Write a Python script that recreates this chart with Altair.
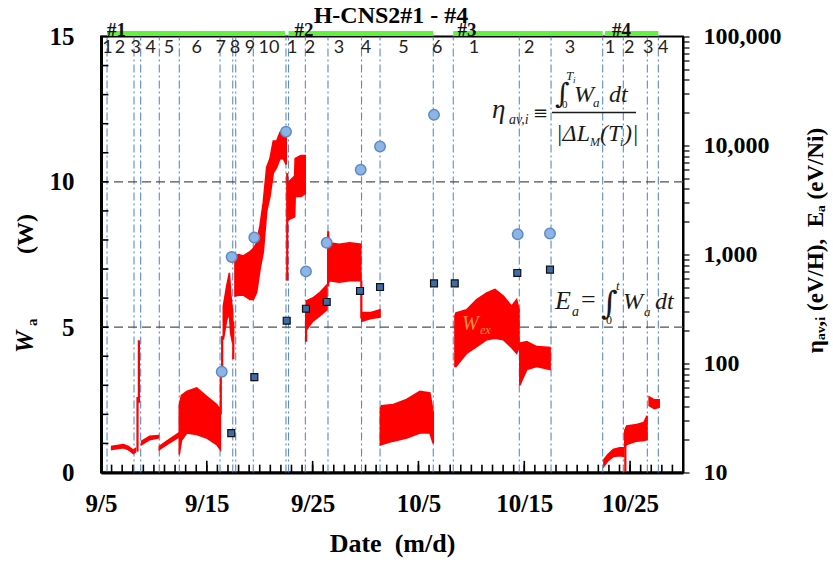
import altair as alt
import pandas as pd

# ---------------- data (x = days elapsed since 9/5 00:00) ----------------
run_boundary_day = [0.57, 3.12, 3.75, 5.51, 7.40, 11.25, 12.45, 12.73, 14.39, 17.48, 17.72,
                    19.31, 21.45, 24.62, 26.37, 31.40, 33.29, 39.53, 42.53, 47.41, 49.36,
                    51.63, 52.67]
run_label = ["1", "2", "3", "4", "5", "6", "7", "8", "9", "10",
             "1", "2", "3", "4", "5", "6",
             "1", "2", "3",
             "1", "2", "3", "4"]
run_label_day = [0.60, 1.80, 3.29, 4.70, 6.43, 9.04, 11.31, 12.66, 14.08, 15.88,
                 18.08, 19.75, 22.49, 25.04, 28.59, 31.78,
                 35.25, 40.47, 44.32,
                 48.10, 49.92, 51.72, 53.14]
group_label = ["#1", "#2", "#3", "#4"]
group_label_day = [1.46, 19.18, 34.59, 49.19]
group_start_day = [0.57, 17.72, 33.29, 47.63]
group_end_day = [17.39, 31.40, 47.41, 52.67]
ref_level_w = [5, 10]

x_label_day = [0, 10, 20, 30, 40, 50]
x_minor_day = list(range(0, 56))
y_label_w = [0, 5, 10, 15]
y_minor_w = list(range(0, 16))
right_major = [10, 100, 1000, 10000, 100000]

eta_day = [11.41, 12.35, 14.49, 17.48, 19.37, 21.33, 24.54, 26.37, 31.47, 39.38, 42.43]
eta_val = [84, 950, 1430, 13400, 700, 1280, 6000, 9800, 19100, 1530, 1560]
ea_day = [12.31, 14.49, 17.55, 19.37, 21.33, 24.48, 26.37, 31.47, 33.43, 39.34, 42.43]
ea_val = [23, 75, 247, 318, 367, 463, 503, 544, 544, 677, 726]

# excess power W_a: envelope (low/high) of the dense record, one list per run
red_day = [
    [1.01, 2.11, 2.58, 3.06, 3.25],
    [3.84, 4.60, 5.42],
    [5.51, 6.21, 7.35],
    [7.40, 7.60, 8.10, 9.04, 9.98, 10.93, 11.28],
    [11.56, 11.88, 12.13, 12.25, 12.44],
    [12.66, 13.00, 13.45, 14.08, 14.39],
    [14.39, 14.71, 15.03, 15.34, 15.66, 15.97, 16.28, 16.60, 16.92, 17.23, 17.50],
    [17.75, 18.30, 18.35, 18.90, 19.30],
    [19.40, 20.00, 20.70, 21.35],
    [21.45, 21.60, 22.50, 23.50, 24.55],
    [24.65, 25.50, 26.37],
    [26.40, 26.52, 27.62, 28.88, 30.14, 31.08, 31.40],
    [33.45, 33.55, 34.55, 35.50, 36.45, 37.23, 38.02, 38.80, 39.28, 39.50],
    [39.58, 40.23, 41.18, 42.44],
    [47.53, 47.90, 48.41, 49.00, 49.40],
    [49.50, 49.68, 50.62, 51.30, 51.60],
    [51.80, 52.30, 52.75],
]
red_lo = [
    [0.79, 0.85, 0.79, 0.65, 0.70],
    [0.96, 1.13, 1.19],
    [0.79, 0.96, 1.22],
    [0.62, 1.10, 1.36, 1.31, 1.19, 0.96, 0.79],
    [4.57, 5.26, 5.49, 4.80, 4.45],
    [6.07, 6.10, 6.10, 5.95, 5.95],
    [5.95, 6.20, 7.00, 7.60, 9.00, 9.50, 10.30, 10.50, 10.80, 10.80, 10.60],
    [8.70, 8.80, 9.50, 9.50, 9.60],
    [4.90, 5.20, 5.40, 5.60],
    [6.50, 6.60, 6.55, 6.60, 6.60],
    [5.20, 5.30, 5.35],
    [0.95, 0.96, 1.08, 1.19, 1.36, 1.36, 1.00],
    [3.65, 3.65, 4.10, 4.33, 4.57, 4.62, 4.57, 4.30, 4.10, 4.30],
    [3.00, 3.54, 3.65, 3.54],
    [0.22, 0.40, 0.55, 0.58, 0.56],
    [0.90, 0.96, 1.08, 1.10, 1.13],
    [2.30, 2.20, 2.25],
]
red_hi = [
    [0.90, 0.96, 0.90, 0.76, 0.82],
    [1.08, 1.25, 1.27],
    [0.90, 1.08, 1.36],
    [2.30, 2.65, 2.79, 2.91, 2.62, 2.34, 2.16],
    [5.72, 6.41, 6.87, 6.18, 5.49],
    [7.44, 7.50, 7.45, 7.60, 7.70],
    [7.70, 7.90, 8.50, 9.30, 10.50, 10.80, 11.40, 11.40, 11.70, 11.70, 11.85],
    [10.00, 10.20, 10.80, 10.90, 10.90],
    [5.90, 6.00, 6.20, 6.45],
    [8.20, 7.90, 7.85, 7.90, 7.85],
    [5.50, 5.50, 5.60],
    [2.20, 2.30, 2.34, 2.51, 2.79, 2.74, 2.05],
    [5.40, 5.49, 5.60, 5.95, 6.18, 6.30, 6.07, 5.72, 5.95, 5.60],
    [4.45, 4.50, 4.33, 4.30],
    [0.45, 0.62, 0.79, 0.85, 0.85],
    [1.45, 1.60, 1.65, 1.72, 1.95],
    [2.60, 2.50, 2.50],
]
# fast jumps / spikes of the record
spike_day = [3.45, 3.58, 11.32, 11.45, 12.50, 17.60, 19.38, 21.47, 24.60, 49.55]
spike_lo = [0.72, 2.40, 2.00, 3.30, 3.90, 6.60, 4.50, 6.40, 5.30, 0.05]
spike_hi = [2.60, 4.55, 3.60, 4.70, 5.20, 10.30, 5.50, 8.30, 6.60, 1.20]

# ---------------- tables ----------------
rows = []
for i, (ds, ls, hs) in enumerate(zip(red_day, red_lo, red_hi)):
    for d, lo, hi in zip(ds, ls, hs):
        rows.append({"seg": i, "day": d, "lo": lo, "hi": hi})
red_df = pd.DataFrame(rows)
spike_df = pd.DataFrame({"day": spike_day, "lo": spike_lo, "hi": spike_hi})
bound_df = pd.DataFrame({"day": run_boundary_day, "y0": 0, "y1": 15})
runlab_df = pd.DataFrame({"day": run_label_day, "t": run_label})
grp_df = pd.DataFrame({"day": group_label_day, "t": group_label})
bar_df = pd.DataFrame({"s": group_start_day, "e": group_end_day})
ref_df = pd.DataFrame({"w": ref_level_w})
eta_df = pd.DataFrame({"day": eta_day, "v": eta_val})
ea_df = pd.DataFrame({"day": ea_day, "v": ea_val})
xminor_df = pd.DataFrame({"day": x_minor_day})
xmajor_df = pd.DataFrame({"day": x_label_day})
yminor_df = pd.DataFrame({"w": y_minor_w})

# ---------------- layout / styles ----------------
SERIF = "Liberation Serif"
SYM = "DejaVu Serif"
NB = "\u00a0"
W, H = 582, 436
X0, Y0 = 101, 36.5

xs = alt.Scale(domain=[0, 55], nice=False, zero=False)
ws = alt.Scale(domain=[0, 15], nice=False, zero=False)
es = alt.Scale(type="log", domain=[10, 100000], nice=False)

date_expr = "timeFormat(datetime(2015, 8, 5 + datum.value), '%-m/%-d')"
log_ticks = [m * 10 ** k for k in range(1, 5) for m in range(1, 10)] + [100000]
major_list = ",".join(str(v) for v in right_major)

x_main = alt.Axis(orient="bottom", values=x_label_day, labelExpr=date_expr,
                  ticks=False, tickSize=0, domain=True, domainColor="black", domainWidth=3,
                  grid=False, labelFont=SERIF, labelFontSize=25, labelFontWeight="bold",
                  labelColor="black", labelPadding=19, labelFlush=False, labelOverlap=False,
                  title="Date" + NB + NB + "(m/d)", titleFont=SERIF, titleFontSize=26,
                  titleFontWeight="bold", titleColor="black", titleX=291, titleY=79,
                  titleAlign="center", titleBaseline="alphabetic")
y_main = alt.Axis(orient="left", values=y_label_w, ticks=False, tickSize=0, domain=True,
                  domainColor="black", domainWidth=3, grid=False, labelFont=SERIF,
                  labelFontSize=25, labelFontWeight="bold", labelColor="black",
                  labelPadding=27, labelFlush=False, labelOverlap=False, title="")
y_right = alt.Axis(orient="right", values=log_ticks,
                   labelExpr="indexof([" + major_list + "], datum.value) >= 0 ? format(datum.value, ',') : ''",
                   ticks=True, tickSize=6, tickWidth=1.2, tickColor="black", domain=True,
                   domainColor="black", domainWidth=2, grid=False, labelFont=SERIF,
                   labelFontSize=24, labelFontWeight="bold", labelColor="black",
                   labelPadding=14, labelFlush=False, labelOverlap=False,
                   title="ηₐᵥ,ᵢ (eV/H)," + NB + NB + "Eₐ (eV/Ni)", titleFont=SERIF,
                   titleFontSize=23, titleFontWeight="bold", titleColor="black",
                   titleAngle=270, titleX=132, titleY=203.5, titleAlign="center",
                   titleBaseline="middle")

# ---------------- layers ----------------
vlines = alt.Chart(bound_df).mark_rule(color="#4A7EBB", strokeWidth=1.1, strokeDash=[8, 3, 2, 3],
                                      opacity=0.9).encode(
    x=alt.X("day:Q", scale=xs, axis=x_main),
    y=alt.Y("y0:Q", scale=ws, axis=y_main),
    y2="y1:Q",
)
hlines = alt.Chart(ref_df).mark_rule(color="#505050", strokeWidth=1.4, strokeDash=[9, 5]).encode(
    y=alt.Y("w:Q", scale=ws, axis=None),
)
red_area = alt.Chart(red_df).mark_area(color="#FF0000", stroke="#FF0000", strokeWidth=1.6,
                                       interpolate="linear").encode(
    x=alt.X("day:Q", scale=xs, axis=None),
    y=alt.Y("lo:Q", scale=ws, axis=None),
    y2="hi:Q",
    detail="seg:N",
)
red_spikes = alt.Chart(spike_df).mark_rule(color="#FF0000", strokeWidth=2.2).encode(
    x=alt.X("day:Q", scale=xs, axis=None),
    y=alt.Y("lo:Q", scale=ws, axis=None),
    y2="hi:Q",
)
# inward tick marks of the bottom and left axes (same pattern as the run boundaries)
x_minor_ticks = alt.Chart(xminor_df).transform_calculate(t0="0", t1="0.27").mark_rule(
    color="black", strokeWidth=1.6).encode(
    x=alt.X("day:Q", scale=xs, axis=None),
    y=alt.Y("t0:Q", scale=ws, axis=None),
    y2="t1:Q",
)
x_major_ticks = alt.Chart(xmajor_df).transform_calculate(t0="0", t1="0.4").mark_rule(
    color="black", strokeWidth=1.6).encode(
    x=alt.X("day:Q", scale=xs, axis=None),
    y=alt.Y("t0:Q", scale=ws, axis=None),
    y2="t1:Q",
)
y_minor_ticks = alt.Chart(yminor_df).transform_calculate(d0="0", d1="0.7").mark_rule(
    color="black", strokeWidth=1.6).encode(
    y=alt.Y("w:Q", scale=ws, axis=None),
    x=alt.X("d0:Q", scale=xs, axis=None),
    x2="d1:Q",
)

eta_pts = alt.Chart(eta_df).mark_point(shape="circle", filled=True, fill="#8DB4E2",
                                       stroke="#5B8CC8", strokeWidth=1.5, size=110,
                                       opacity=1).encode(
    x=alt.X("day:Q", scale=xs, axis=None),
    y=alt.Y("v:Q", scale=es, axis=y_right),
)
ea_pts = alt.Chart(ea_df).mark_point(shape="square", filled=True, fill="#3D6DA8",
                                     stroke="#111111", strokeWidth=1.2, size=48,
                                     opacity=1).encode(
    x=alt.X("day:Q", scale=xs, axis=None),
    y=alt.Y("v:Q", scale=es, axis=None),
)
green = alt.Chart(bar_df).mark_rule(color="#62F23E", strokeWidth=5).encode(
    x=alt.X("s:Q", scale=xs, axis=None),
    x2="e:Q",
    y=alt.value(-3),
)
run_text = alt.Chart(runlab_df).mark_text(font="Lato", fontSize=18, color="#222222",
                                          baseline="middle").encode(
    x=alt.X("day:Q", scale=xs, axis=None),
    y=alt.value(11),
    text="t:N",
)
grp_text = alt.Chart(grp_df).mark_text(font=SERIF, fontSize=19, fontWeight="bold",
                                       color="#111111", baseline="middle").encode(
    x=alt.X("day:Q", scale=xs, axis=None),
    y=alt.value(-6.5),
    text="t:N",
)

ann_src = pd.DataFrame({"k": [0]})


def note(text, x, y, size, style="normal", weight="normal", align="left",
         color="#1a1a1a", font=SERIF, opacity=1.0, angle=0):
    kw = dict(text=text, fontSize=size, fontStyle=style, fontWeight=weight, align=align,
              baseline="alphabetic", color=color, font=font, opacity=opacity)
    if angle:
        kw["angle"] = angle
    return alt.Chart(ann_src).mark_text(**kw).encode(x=alt.value(x - X0), y=alt.value(y - Y0))


notes = [
    note("H-CNS2#1 - #4", 391, 23, 24, weight="bold", align="center", color="black"),
    # left axis title  W_a  (W)  (rotated, reading upward)
    note("W", 33, 353, 25, style="italic", weight="bold", color="black", angle=270),
    note("a", 37, 326, 15, weight="bold", color="black", angle=270),
    note("(W)", 33, 254, 24, weight="bold", color="black", angle=270),
    # eta definition
    note("η", 492, 118, 27, style="italic"),
    note("av,i", 509, 124, 14, style="italic"),
    note("≡", 533, 119, 18, font=SYM),
    note("∫", 555, 103, 28, font=SYM),
    note("0", 562, 108, 11),
    note("T", 566, 80, 13, style="italic"),
    note("i", 573, 83, 9, style="italic"),
    note("W", 574, 102, 24, style="italic"),
    note("a", 593, 107, 13, style="italic"),
    note("dt", 609, 102, 24, style="italic"),
    note("|ΔL", 556, 141, 24, style="italic"),
    note("M", 590, 146, 12, style="italic"),
    note("(T", 600, 141, 24, style="italic"),
    note("i", 620, 146, 12, style="italic"),
    note(")|", 624, 141, 24, style="italic"),
    # E_a definition
    note("E", 555, 309, 26, style="italic"),
    note("a", 572, 316, 14, style="italic"),
    note("=", 581, 308, 26),
    note("∫", 601, 314, 32, font=SYM),
    note("t", 616, 290, 13, style="italic"),
    note("0", 606, 324, 12),
    note("W", 623, 309, 24, style="italic"),
    note("a", 644, 316, 13, style="italic"),
    note("dt", 655, 309, 24, style="italic"),
    # faint W_ex legend text
    note("W", 462, 330, 20, style="italic", color="#FFA040", opacity=0.9),
    note("ex", 480, 334, 12, style="italic", color="#FFA040", opacity=0.9),
]
frac_bar = alt.Chart(ann_src).mark_rule(color="#1a1a1a", strokeWidth=1.5).encode(
    x=alt.value(552 - X0), x2=alt.value(636 - X0), y=alt.value(112.5 - Y0)
)

chart = alt.layer(
    vlines, hlines, red_area, red_spikes,
    x_minor_ticks, x_major_ticks, y_minor_ticks,
    eta_pts, ea_pts, green, run_text, grp_text, frac_bar, *notes,
).resolve_scale(y="independent").resolve_axis(x="independent", y="independent").properties(
    width=W, height=H,
    autosize=alt.AutoSizeParams(type="none"),
    padding={"left": X0, "top": Y0, "right": 833 - X0 - W, "bottom": 566 - Y0 - H},
    background="white",
).configure_view(stroke="black", strokeWidth=2)

chart.save("out.html", embed_options={"renderer": "svg", "actions": False})
